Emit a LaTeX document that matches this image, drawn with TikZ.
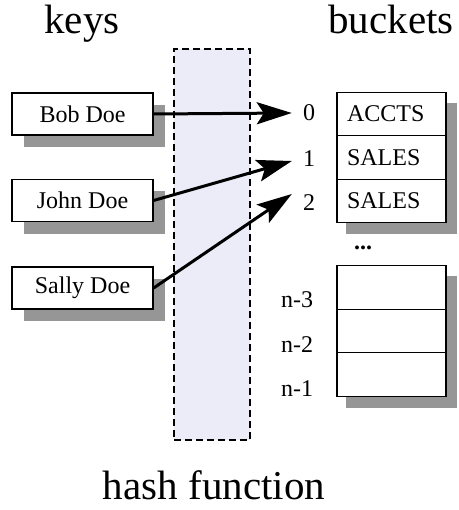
\documentclass[tikz,border=0pt]{standalone}
\usepackage{fontspec}
\setmainfont{Liberation Serif}
\usetikzlibrary{arrows.meta,shadows,backgrounds}
\definecolor{hashfill}{RGB}{236,236,248}
\definecolor{shadowgray}{RGB}{150,150,150}
\tikzset{
  keybox/.style={draw, line width=1.3pt, fill=white, minimum width=141pt, minimum height=42pt,
    inner sep=0pt, font=\fontsize{24}{28}\selectfont,
    drop shadow={shadow xshift=12pt, shadow yshift=-12pt, fill=shadowgray, opacity=1}},
  cell/.style={draw, line width=1.3pt, fill=white, text width=89pt, inner xsep=10pt, inner ysep=0pt,
    minimum height=43.5pt, align=left, font=\fontsize{24}{28}\selectfont},
  idx/.style={inner sep=0pt, font=\fontsize{24}{28}\selectfont},
  title/.style={inner sep=0pt, anchor=base, font=\fontsize{41}{48}\selectfont},
  hashbox/.style={draw, dashed, dash pattern=on 7pt off 4pt, line width=2pt, fill=hashfill,
    minimum width=76pt, minimum height=391pt, inner sep=0pt},
  harrow/.style={line width=3pt, -{Stealth[length=35pt, width=22pt, inset=7pt]}},
  bshadow/.style={fill=shadowgray}
}
\begin{document}
\begin{tikzpicture}[x=1pt,y=-1pt]
\useasboundingbox (0,0) rectangle (458,510);
% titles
\node[title] (tkeys) at (82,34) {keys};
\node[title] (tbuck) at (391,34) {buckets};
\node[title] (thash) at (214,499) {hash function};
% hash function region
\node[hashbox] (hf) at (212,244.5) {};
% key boxes
\node[keybox] (bob) at (82.5,114) {Bob Doe};
\node[keybox] (john) at (82.5,200.5) {John Doe};
\node[keybox] (sally) at (82.5,288) {Sally Doe};
% buckets, top group
\node[cell] (b0) at (391.5,114) {ACCTS};
\node[cell] (b1) at (391.5,157.5) {SALES};
\node[cell] (b2) at (391.5,201) {SALES};
% buckets, bottom group
\node[cell] (c1) at (391.5,287.5) {};
\node[cell] (c2) at (391.5,331) {};
\node[cell] (c3) at (391.5,374.5) {};
\node[idx] (dots) at (363,248) {\textbf{...}};
\begin{scope}[on background layer]
  \fill[bshadow] ([shift={(10,11)}]b0.north west) rectangle ([shift={(10,11)}]b2.south east);
  \fill[bshadow] ([shift={(10,11)}]c1.north west) rectangle ([shift={(10,11)}]c3.south east);
\end{scope}
% indices
\node[idx] (i0) at (309,113) {0};
\node[idx] (i1) at (309,159) {1};
\node[idx] (i2) at (309,203) {2};
\node[idx] (n3) at (297,300) {n-3};
\node[idx] (n2) at (297,345) {n-2};
\node[idx] (n1) at (297,389) {n-1};
% arrows
\draw[harrow] (bob.east) -- ([xshift=-11pt]i0.west);
\draw[harrow] (john.east) -- ([shift={(-11pt,-2pt)}]i1.west);
\draw[harrow] (sally.east) -- ([shift={(-11pt,9pt)}]i2.west);
\end{tikzpicture}
\end{document}
